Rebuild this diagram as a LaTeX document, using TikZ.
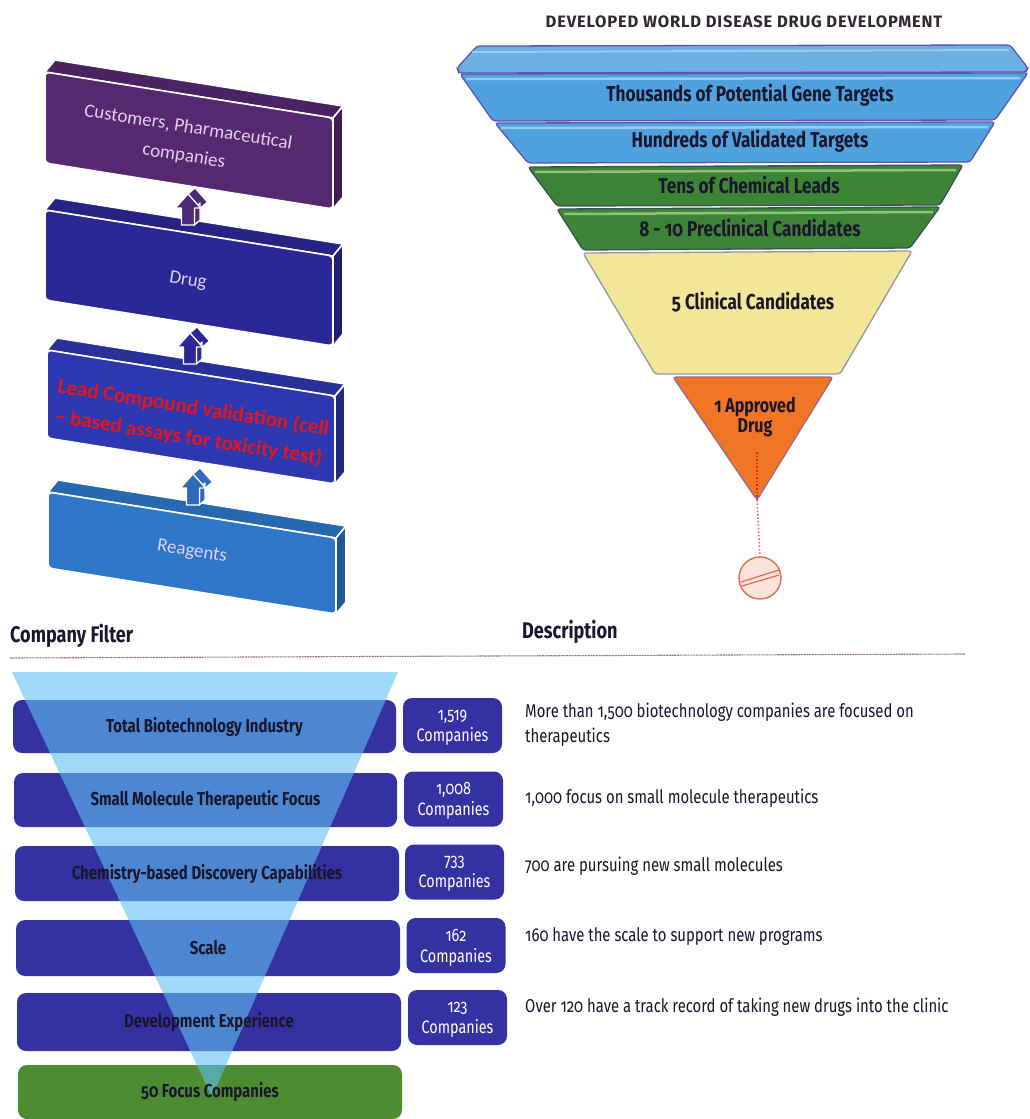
\documentclass[tikz,border=0pt]{standalone}
\usepackage{fontspec}
\usetikzlibrary{calc}
\setmainfont{Fira Sans}[Numbers=OldStyle]
\newfontfamily\metafont[Numbers=OldStyle,FakeStretch=0.8]{Fira Sans}
\newfontfamily\titlefont[Numbers=OldStyle,LetterSpace=5]{Fira Sans}
\newfontfamily\calfont{Carlito}

% colours of the left stack
\definecolor{stackP}{RGB}{85,40,112}
\definecolor{stackD}{RGB}{42,40,150}
\definecolor{stackL}{RGB}{45,55,175}
\definecolor{stackR}{RGB}{45,118,200}
\definecolor{leadred}{RGB}{228,22,28}
\definecolor{lavtext}{RGB}{225,210,240}
% colours of the development funnel
\definecolor{fblue}{RGB}{80,162,222}
\definecolor{fbluehi}{RGB}{150,205,240}
\definecolor{fblueln}{RGB}{95,85,175}
\definecolor{fgreen}{RGB}{62,132,55}
\definecolor{fgreenhi}{RGB}{140,195,120}
\definecolor{fgreenln}{RGB}{60,80,90}
\definecolor{fyellow}{RGB}{242,230,152}
\definecolor{fyellowln}{RGB}{150,150,165}
\definecolor{forange}{RGB}{240,118,38}
\definecolor{forangeln}{RGB}{150,110,140}
\definecolor{pillred}{RGB}{225,105,85}
\definecolor{pillfill}{RGB}{252,228,218}
\definecolor{darktext}{RGB}{25,22,45}
% colours of the company filter
\definecolor{barblue}{RGB}{52,50,162}
\definecolor{bargreen}{RGB}{78,140,50}
\definecolor{funcyan}{RGB}{95,192,242}
\definecolor{ruleclr}{RGB}{150,120,140}

\tikzset{
  slabface/.style={draw=white, line width=1.6pt, line join=round},
  slabtext/.style={font=\calfont\fontsize{19}{29}\selectfont, text=lavtext, align=center, rotate=-9},
  houseup/.pic={
    \path[pic actions, draw=white, line width=1.2pt, line join=round]
      (0,-31) -- (7,-37) -- (19.5,-23) -- (12.5,-17) -- cycle;
    \path[pic actions, draw=white, line width=1.2pt, line join=round]
      (6.5,0) -- (12,-5) -- (12,-22) -- (6.5,-17) -- cycle;
    \path[pic actions, draw=white, line width=1.2pt, line join=round]
      (-6.5,0) -- (-6.5,-17) -- (-12.5,-17) -- (0,-31) -- (12.5,-17) -- (6.5,-17) -- (6.5,0) -- cycle;
  },
  layer/.style={line width=1.3pt, rounded corners=3pt},
  layertext/.style={font=\metafont\bfseries\fontsize{21.5}{22}\selectfont, text=darktext},
  bar/.style={rectangle, rounded corners=9pt, fill=barblue, inner sep=0pt},
  countbox/.style={rectangle, rounded corners=9pt, fill=barblue, inner sep=0pt,
    minimum width=99pt, minimum height=55pt},
  counttext/.style={text=white, align=center, font=\metafont\fontsize{18}{21}\selectfont},
  bartext/.style={font=\metafont\bfseries\fontsize{18.7}{20}\selectfont, text=darktext},
  desc/.style={anchor=west, font=\metafont\fontsize{18.6}{25}\selectfont, text=darktext, align=left, inner sep=0pt},
  heading/.style={anchor=west, font=\metafont\bfseries\fontsize{22.6}{25}\selectfont, text=darktext, inner sep=0pt},
}

% a slanted 3-D slab: #1,#2 = top-left corner of the front face, #3 = height, #4 = colour
\newcommand\slab[4]{%
  \path[slabface, fill=#4!88!black] (#1,#2) -- ++(288,46) -- ++(10,-12) -- ++(-288,-46) -- cycle;
  \path[slabface, fill=#4!75!black] (#1+288,#2+46) -- ++(0,#3) -- ++(10,-12) -- ++(0,-#3) -- cycle;
  \path[slabface, fill=#4, rounded corners=4pt] (#1,#2) -- ++(288,46) -- ++(0,#3) -- ++(-288,-46) -- cycle;
}

\begin{document}
\begin{tikzpicture}[x=1pt, y=-1pt]
\useasboundingbox[fill=white] (0,0) rectangle (1029,1119);

% ---------- value chain stack ----------
\slab{48}{492}{76}{stackR}
\slab{47}{350}{88}{stackL}
\slab{45}{210}{90}{stackD}
\slab{45}{72}{91}{stackP}

\node[slabtext] (cust) at (186,142) {Customers, Pharmaceutical\\companies};
\node[slabtext] (drug) at (188,281) {Drug};
\node[slabtext, text=leadred, font=\calfont\bfseries\fontsize{21}{30}\selectfont] (lead) at (191,423)
  {Lead Compound validation (cell\\– based assays for toxicity test)};
\node[slabtext] (reag) at (192,552) {Reagents};

\pic[fill=stackP!80!stackD] at (188,225) {houseup};
\pic[fill=stackD] at (190,364) {houseup};
\pic[fill=stackR!85!stackD] at (193,505) {houseup};

% ---------- development funnel ----------
\node[font=\titlefont\bfseries\fontsize{16.5}{18}\selectfont, text=darktext!85!brown] (ftitle) at (744,22)
  {DEVELOPED WORLD DISEASE DRUG DEVELOPMENT};

% rim on top of the funnel
\path[layer, fill=fblue!85!white, draw=fblueln] (457,68) -- (477,46) -- (1010,45) -- (1028,68) -- (1026,72) -- (459,73) -- cycle;
\draw[fbluehi, line width=2pt] (472,52) -- (1008,50);

\path[layer, fill=fblue, draw=fblueln] (460,74) -- (1028,73) -- (995,120) -- (493,121) -- cycle;
\draw[fbluehi, line width=2.5pt] (466,79) -- (1020,78);
\path[layer, fill=fblue, draw=fblueln] (495,123) -- (995,122) -- (970,162) -- (528,163) -- cycle;
\draw[fbluehi, line width=2.5pt] (501,128) -- (988,127);
\path[layer, fill=fgreen, draw=fgreenln] (528,167) -- (963,165) -- (940,205) -- (557,206) -- cycle;
\draw[fgreenhi, line width=2.5pt] (535,172) -- (956,170);
\path[layer, fill=fgreen, draw=fgreenln] (557,209) -- (940,207) -- (910,248) -- (583,250) -- cycle;
\draw[fgreenhi, line width=2.5pt] (564,214) -- (933,212);
\path[layer, fill=fyellow, draw=fyellowln] (583,253) -- (912,251) -- (840,374) -- (655,374) -- cycle;
\path[layer, fill=forange, draw=forangeln] (673,377) -- (833,377) -- (757,500) -- cycle;

\node[layertext] (l1) at (750,95) {Thousands of Potential Gene Targets};
\node[layertext] (l2) at (750,141) {Hundreds of Validated Targets};
\node[layertext] (l3) at (749,185) {Tens of Chemical Leads};
\node[layertext] (l4) at (750,228) {8 - 10 Preclinical Candidates};
\node[layertext] (l5) at (753,302) {5 Clinical Candidates};
\node[layertext, align=center, font=\metafont\bfseries\fontsize{20}{17}\selectfont] (l6) at (755,417) {1 Approved\\Drug};

% dotted drop from the last stage to the pill
\coordinate (apex) at (757,500);
\node[circle, minimum size=42pt, inner sep=0pt, fill=pillfill, draw=pillred, line width=1.4pt] (pill) at (760,578) {};
\draw[red!80!orange, line width=1.6pt, dotted] (757,452) -- (apex);
\draw[pillred!80!gray, line width=1.5pt, dotted] (apex) -- (pill.north);
\draw[pillred, line width=1.2pt] ($(pill.center)+(-19,4)$) -- ($(pill.center)+(19,-8)$);
\draw[pillred, line width=1.2pt] ($(pill.center)+(-18,8)$) -- ($(pill.center)+(19,-3)$);

% ---------- company filter ----------
\node[heading] (hcf) at (10,636) {Company Filter};
\node[heading] (hdesc) at (522,632) {Description};
\draw[ruleclr, line width=1.1pt, dash pattern=on 2pt off 0.7pt] (10,658) -- (965,654);

\node[bar, minimum width=383pt, minimum height=53pt] (b1) at (204.5,726.5) {};
\node[bar, minimum width=383pt, minimum height=54pt] (b2) at (205.5,800) {};
\node[bar, minimum width=384pt, minimum height=55pt] (b3) at (207,873.5) {};
\node[bar, minimum width=384pt, minimum height=56pt] (b4) at (208,948) {};
\node[bar, minimum width=384pt, minimum height=58pt] (b5) at (209,1022) {};
\node[bar, fill=bargreen, minimum width=384pt, minimum height=54pt] (b6) at (210,1092) {};

% translucent filter funnel over the bars
\fill[funcyan, opacity=0.6] (12,672) -- (398,672) -- (212,1097) -- cycle;

\node[bartext] (t1) at (b1.center) {Total Biotechnology Industry};
\node[bartext] (t2) at (b2.center) {Small Molecule Therapeutic Focus};
\node[bartext] (t3) at (b3.center) {Chemistry-based Discovery Capabilities};
\node[bartext] (t4) at (b4.center) {Scale};
\node[bartext] (t5) at (b5.center) {Development Experience};
\node[bartext] (t6) at (b6.center) {50 Focus Companies};

\node[countbox] (n1) at (452.5,725.5) {};
\node[countbox] (n2) at (453.5,799) {};
\node[countbox] (n3) at (454.5,872) {};
\node[countbox] (n4) at (456,945.5) {};
\node[countbox] (n5) at (457.5,1017.5) {};
\node[counttext] (c1) at ($(n1.center)+(0,2)$) {1,519\\Companies};
\node[counttext] (c2) at ($(n2.center)+(0,2)$) {1,008\\Companies};
\node[counttext] (c3) at ($(n3.center)+(0,2)$) {733\\Companies};
\node[counttext] (c4) at ($(n4.center)+(0,2)$) {162\\Companies};
\node[counttext] (c5) at ($(n5.center)+(0,2)$) {123\\Companies};

\node[desc] (d1) at (525,725) {More than 1,500 biotechnology companies are focused on\\therapeutics};
\node[desc] (d2) at (525,798) {1,000 focus on small molecule therapeutics};
\node[desc] (d3) at (525,866) {700 are pursuing new small molecules};
\node[desc] (d4) at (525,936) {160 have the scale to support new programs};
\node[desc] (d5) at (525,1007) {Over 120 have a track record of taking new drugs into the clinic};
\end{tikzpicture}
\end{document}
